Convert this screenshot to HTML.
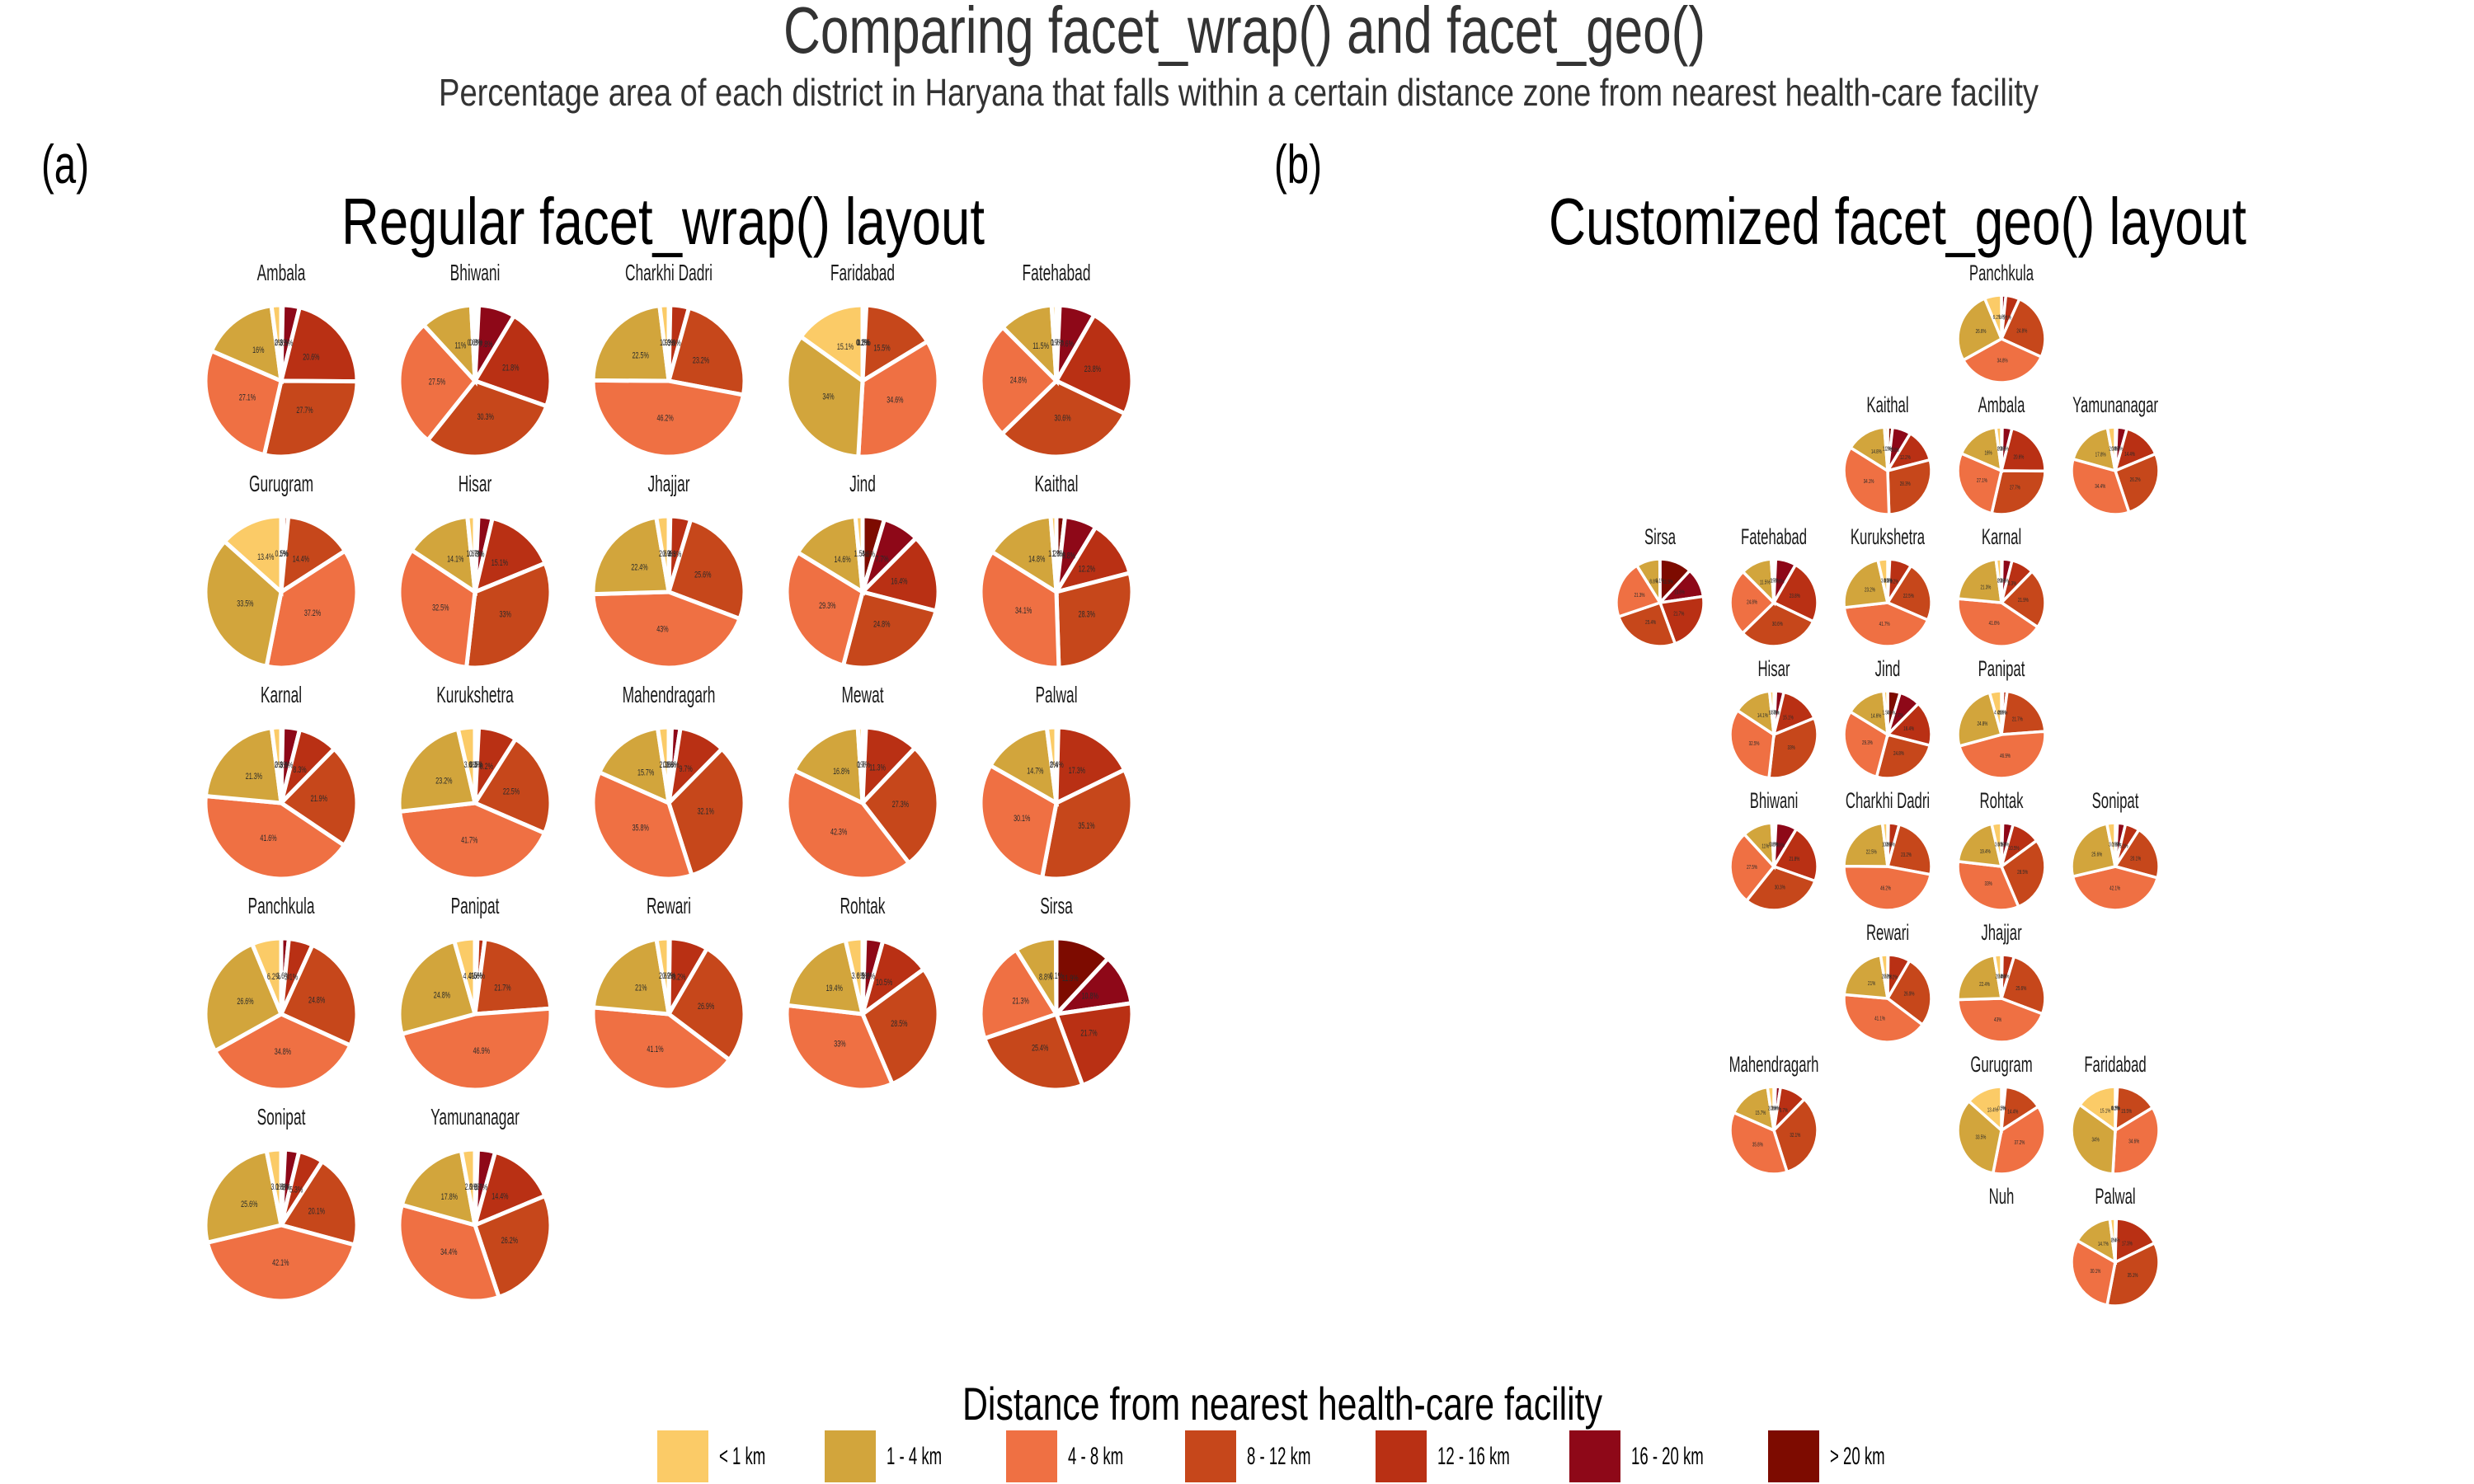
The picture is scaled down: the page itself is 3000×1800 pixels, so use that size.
<!DOCTYPE html>
<html><head><meta charset="utf-8">
<style>
html,body{margin:0;padding:0;background:#fff;}
svg{display:block;}
text{font-family:"Liberation Sans",sans-serif;}
</style></head>
<body>
<svg id="chart" width="3000" height="1800" viewBox="0 0 3000 1800" xmlns="http://www.w3.org/2000/svg">
<rect width="3000" height="1800" fill="#fff"/>
<text x="950" y="64" font-size="80" fill="#333" textLength="1118" lengthAdjust="spacingAndGlyphs">Comparing facet_wrap() and facet_geo()</text>
<text x="532" y="128" font-size="46" fill="#333" textLength="1940" lengthAdjust="spacingAndGlyphs">Percentage area of each district in Haryana that falls within a certain distance zone from nearest health-care facility</text>
<text x="50" y="222" font-size="66" fill="#000" textLength="58" lengthAdjust="spacingAndGlyphs">(a)</text>
<text x="1545" y="222" font-size="66" fill="#000" textLength="58" lengthAdjust="spacingAndGlyphs">(b)</text>
<text x="414" y="296" font-size="80" fill="#000" textLength="780" lengthAdjust="spacingAndGlyphs">Regular facet_wrap() layout</text>
<text x="1878" y="296" font-size="80" fill="#000" textLength="846" lengthAdjust="spacingAndGlyphs">Customized facet_geo() layout</text>
<g id="wrapPanel"></g>
<g id="geoPanel"></g>
<g id="legend">
<text x="1555" y="1722" font-size="56" fill="#000" text-anchor="middle" textLength="776" lengthAdjust="spacingAndGlyphs">Distance from nearest health-care facility</text>
</g>
</svg>
<script>
// Categories (distance zones)
const zones = ["< 1 km","1 - 4 km","4 - 8 km","8 - 12 km","12 - 16 km","16 - 20 km","> 20 km"];
const zoneColors = ["#FBCB67","#D2A53C","#EF7043","#C6471B","#B93014","#8E0818","#7D0B00"];
// District names (alphabetical, facet_wrap order)
const districts = ["Ambala","Bhiwani","Charkhi Dadri","Faridabad","Fatehabad","Gurugram","Hisar","Jhajjar","Jind","Kaithal","Karnal","Kurukshetra","Mahendragarh","Mewat","Palwal","Panchkula","Panipat","Rewari","Rohtak","Sirsa","Sonipat","Yamunanagar"];
// Percentage per zone [<1, 1-4, 4-8, 8-12, 12-16, 16-20, >20]
const shareAmbala = [2,16,27.1,27.7,20.6,3.5,0.3];
const shareBhiwani = [0.8,11,27.5,30.3,21.8,7.8,0.8];
const shareCharkhiDadri = [1.9,22.5,46.2,23.2,3.9,0.3,0];
const shareFaridabad = [15.1,34,34.6,15.5,0.5,0.2,0.1];
const shareFatehabad = [1,11.5,24.8,30.6,23.8,7.6,0.7];
const shareGurugram = [13.4,33.5,37.2,14.4,1,0.5,0];
const shareHisar = [1.6,14.1,32.5,33,15.1,3,0.7];
const shareJhajjar = [2.6,22.4,43,25.6,4.3,0.3,0];
const shareJind = [1.5,14.6,29.3,24.8,16.4,7.7,4.6];
const shareKaithal = [1.2,14.8,34.1,28.3,12.2,6.8,1.8];
const shareKarnal = [2,21.3,41.6,21.9,8.3,3.6,0.3];
const shareKurukshetra = [3.6,23.2,41.7,22.5,8.2,0.5,0.3];
const shareMahendragarh = [2.3,15.7,35.8,32.1,9.7,1.8,0.6];
const shareMewat = [1,16.8,42.3,27.3,11.3,0.7,0];
const sharePalwal = [2,14.7,30.1,35.1,17.3,0.4,0];
const sharePanchkula = [6.2,26.6,34.8,24.8,5.1,1.6,0];
const sharePanipat = [4.4,24.8,46.9,21.7,1.6,0.5,0];
const shareRewari = [2.6,21,41.1,26.9,8.2,0.2,0];
const shareRohtak = [3.6,19.4,33,28.5,10.5,3.8,0.5];
const shareSirsa = [0.1,8.8,21.3,25.4,21.7,10.8,11.9];
const shareSonipat = [3.1,25.6,42.1,20.1,5.3,3,0.8];
const shareYamunanagar = [2.9,17.8,34.4,26.2,14.4,3.7,0.6];
const shares = [shareAmbala,shareBhiwani,shareCharkhiDadri,shareFaridabad,shareFatehabad,shareGurugram,shareHisar,shareJhajjar,shareJind,shareKaithal,shareKarnal,shareKurukshetra,shareMahendragarh,shareMewat,sharePalwal,sharePanchkula,sharePanipat,shareRewari,shareRohtak,shareSirsa,shareSonipat,shareYamunanagar];
// facet_geo grid: [name, row, col]
const geoNames = ["Panchkula","Kaithal","Ambala","Yamunanagar","Sirsa","Fatehabad","Kurukshetra","Karnal","Hisar","Jind","Panipat","Bhiwani","Charkhi Dadri","Rohtak","Sonipat","Rewari","Jhajjar","Mahendragarh","Gurugram","Faridabad","Nuh","Palwal"];
const geoRows = [0,1,1,1,2,2,2,2,3,3,3,4,4,4,4,5,5,6,6,6,7,7];
const geoCols = [3,2,3,4,0,1,2,3,1,2,3,1,2,3,4,2,3,1,3,4,3,4];

const NS = "http://www.w3.org/2000/svg";
function mk(tag, attrs, parent){const e=document.createElementNS(NS,tag);for(const k in attrs)e.setAttribute(k,attrs[k]);parent.appendChild(e);return e;}

function drawPie(parent, name, vals, cx, cy, r, titleY, titleSize, labelSize, sw){
  const g = mk("g",{},parent);
  
  
  const t = mk("text",{"font-size":titleSize,"fill":"#1a1a1a","text-anchor":"middle","transform":`translate(${cx},${titleY}) scale(0.62,1)`},g);
  
  
  t.textContent = name;
  if(!vals) return;
  const total = vals.reduce((a,b)=>a+b,0);
  let acc = 0;
  for(let k=zones.length-1;k>=0;k--){
    const v = vals[k];
    const a0 = acc/total*2*Math.PI; acc += v; const a1 = acc/total*2*Math.PI;
    if(v<=0) continue;
    const x0=cx+r*Math.sin(a0), y0=cy-r*Math.cos(a0), x1=cx+r*Math.sin(a1), y1=cy-r*Math.cos(a1);
    const large = (a1-a0)>Math.PI?1:0;
    const p = mk("path",{d:`M${cx},${cy} L${x0.toFixed(2)},${y0.toFixed(2)} A${r},${r} 0 ${large} 1 ${x1.toFixed(2)},${y1.toFixed(2)} Z`,fill:zoneColors[k],stroke:"#fff","stroke-width":sw,"stroke-linejoin":"miter"},g);
    
    
  }
  acc = 0;
  for(let k=zones.length-1;k>=0;k--){
    const v = vals[k];
    const am = (acc+v/2)/total*2*Math.PI; acc += v;
    if(v<=0) continue;
    const lx = cx+0.5*r*Math.sin(am), ly = cy-0.5*r*Math.cos(am);
    const lt = mk("text",{"font-size":labelSize,"fill":"#2a2a2a","text-anchor":"middle","dominant-baseline":"middle","transform":`translate(${lx.toFixed(1)},${ly.toFixed(1)}) scale(0.65,1)`},g);
    
    
    lt.textContent = v + "%";
  }
}

const wrap = document.getElementById("wrapPanel");
districts.forEach((d,i)=>{
  const row = Math.floor(i/5), col = i%5;
  const cx = 341 + col*235, cy = 462 + row*256;
  drawPie(wrap, d, shares[i], cx, cy, 92, cy-122, 28, 11, 5);
});

const geo = document.getElementById("geoPanel");
geoNames.forEach((n,i)=>{
  const idx = districts.indexOf(n==="Nuh" ? "__none__" : n);
  const cx = 2013 + geoCols[i]*138, cy = 411 + geoRows[i]*160;
  drawPie(geo, n, idx>=0 ? shares[idx] : null, cx, cy, 53, cy-71, 27, 7, 3.5);
});

const leg = document.getElementById("legend");
const swX = [797,1000,1220,1437,1668,1903,2144];
zones.forEach((z,k)=>{
  const item = mk("g",{},leg);
  
  
  const r = mk("rect",{x:swX[k],y:1735,width:62,height:63,fill:zoneColors[k]},item);
  
  
  const t = mk("text",{"font-size":30,"fill":"#000","dominant-baseline":"middle","transform":`translate(${swX[k]+75},1768) scale(0.62,1)`},item);
  
  
  t.textContent = z;
});
</script>
</body></html>
